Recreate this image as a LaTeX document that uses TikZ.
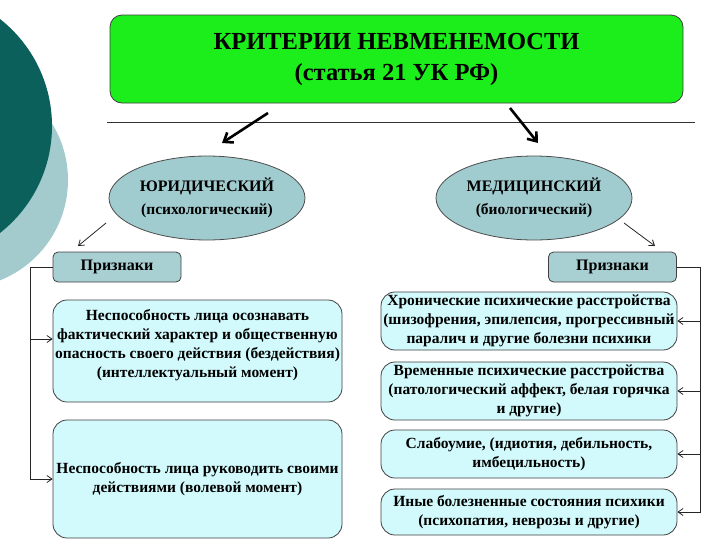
\documentclass[tikz,border=0pt]{standalone}
\usepackage{fontspec}
\setmainfont{Liberation Serif}
\usetikzlibrary{arrows.meta,shapes.geometric}

\definecolor{darkteal}{RGB}{12,96,92}
\definecolor{paleteal}{RGB}{163,203,206}
\definecolor{titlegreen}{RGB}{28,238,28}
\definecolor{ovalfill}{RGB}{161,204,207}
\definecolor{signfill}{RGB}{168,208,210}
\definecolor{boxfill}{RGB}{210,250,252}

\begin{document}
\begin{tikzpicture}[x=1pt,y=-1pt,
    titlebox/.style={draw=black!75,line width=0.8pt,fill=titlegreen,rounded corners=12pt,
      minimum width=573pt,minimum height=88pt,align=center,font=\bfseries\fontsize{24.5}{31}\selectfont},
    oval/.style={ellipse,draw=black!70,line width=0.8pt,fill=ovalfill,minimum width=196pt,
      minimum height=84pt,inner sep=0pt,align=center,font=\bfseries\fontsize{16}{23}\selectfont},
    signbox/.style={draw=black!75,line width=0.8pt,fill=signfill,rounded corners=5pt,
      minimum width=128pt,minimum height=30pt,font=\bfseries\fontsize{16}{18}\selectfont},
    crit/.style={draw=black!75,line width=0.8pt,fill=boxfill,rounded corners=14pt,inner sep=0pt,
      align=center,font=\bfseries\fontsize{15.5}{19}\selectfont},
    link/.style={draw=black!85,line width=0.8pt,-{Straight Barb[length=5pt,width=7pt]}},
    bigarrow/.style={line width=2.6pt,-{Straight Barb[length=8pt,width=12pt]}}]
  \useasboundingbox (0,0) rectangle (728,550);

  % background circles
  \fill[paleteal] (-40,180) circle (108);
  \fill[darkteal] (-84,126) circle (136);

  \node[titlebox] (title) at (396.5,59) {КРИТЕРИИ НЕВМЕНЕМОСТИ\\(статья 21 УК РФ)};
  \draw[black!80,line width=0.8pt] (107,122.5) -- (695,122.5);

  \node[oval] (jur) at (207,198) {ЮРИДИЧЕСКИЙ\\{\fontsize{15.5}{23}\selectfont (психологический)}};
  \node[oval] (med) at (534,198) {МЕДИЦИНСКИЙ\\{\fontsize{15.5}{23}\selectfont (биологический)}};

  \node[signbox] (lsign) at (117,267) {Признаки};
  \node[signbox] (rsign) at (612.5,267) {Признаки};

  \node[crit,minimum width=289pt,minimum height=102pt] (lbox1) at (197.5,351)
    {Неспособность лица осознавать\\фактический характер и общественную\\
     опасность своего действия (бездействия)\\(интеллектуальный момент)\\[-3pt]};
  \node[crit,minimum width=289pt,minimum height=118pt] (lbox2) at (197.5,479)
    {Неспособность лица руководить своими\\действиями (волевой момент)};

  \node[crit,minimum width=296pt,minimum height=58pt] (rbox1) at (529,321)
    {Хронические психические расстройства\\(шизофрения, эпилепсия, прогрессивный\\
     паралич и другие болезни психики};
  \node[crit,minimum width=296pt,minimum height=58pt] (rbox2) at (529,391)
    {Временные психические расстройства\\(патологический аффект, белая горячка\\и другие)};
  \node[crit,minimum width=296pt,minimum height=48pt] (rbox3) at (529,454)
    {Слабоумие, (идиотия, дебильность,\\имбецильность)};
  \node[crit,minimum width=296pt,minimum height=46pt] (rbox4) at (529,512)
    {Иные болезненные состояния психики\\(психопатия, неврозы и другие)};

  \coordinate (ltail) at (268,113);
  \coordinate (lhead) at (222,143);
  \coordinate (rtail) at (510,108);
  \coordinate (rhead) at (538,143);
  \draw[bigarrow] (ltail) -- (lhead);  % to the legal criterion
  \draw[bigarrow] (rtail) -- (rhead);  % to the medical criterion

  \coordinate (ljur) at (106,223);
  \coordinate (lsigntip) at (78,246);
  \coordinate (rmed) at (624,223);
  \coordinate (rsigntip) at (655,246);
  \draw[link] (ljur) -- (lsigntip);
  \draw[link] (rmed) -- (rsigntip);

  \coordinate (lbend) at (30,479);
  \coordinate (lmid) at (30,339);
  \draw[link] (lsign.west) -| (lbend) -- (lbox2.west);  % left trunk
  \draw[link] (lmid) -- (lmid -| lbox1.west);

  \coordinate (rbend) at (700.5,512);
  \draw[link] (rsign.east) -| (rbend) -- (rbox4.east);  % right trunk
  \foreach \b in {rbox1,rbox2,rbox3}
    \draw[link] (\b.east -| rbend) -- (\b.east);
\end{tikzpicture}
\end{document}
